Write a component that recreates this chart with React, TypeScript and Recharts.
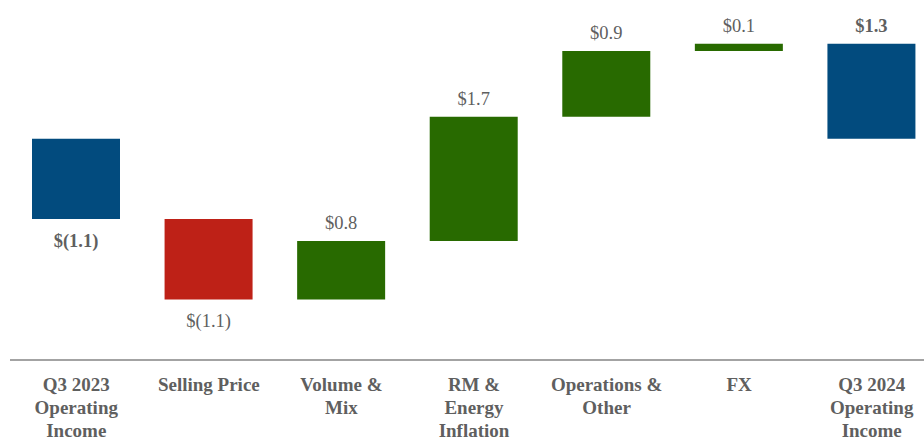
import { BarChart, Bar, XAxis, YAxis, Cell, LabelList } from 'recharts'

// bridge categories (\n = line break in the axis label)
const categories = [
  'Q3 2023\nOperating\nIncome',
  'Selling Price',
  'Volume &\nMix',
  'RM &\nEnergy\nInflation',
  'Operations &\nOther',
  'FX',
  'Q3 2024\nOperating\nIncome',
]
// change per step ($M); totals are the start / end levels
const deltas = [-1.1, -1.1, 0.8, 1.7, 0.9, 0.1, 1.3]
const isTotal = [true, false, false, false, false, false, true]

const BLUE = '#024b7e'
const RED = '#be2117'
const GREEN = '#286a00'
const TEXT = '#5f5f5f'
const FONT = 'Liberation Serif, Times New Roman, DejaVu Serif, serif'

let running = 0
const data = categories.map((name, i) => {
  let low: number, high: number
  if (isTotal[i]) {
    low = Math.min(0, deltas[i])
    high = Math.max(0, deltas[i])
    running = deltas[i]
  } else {
    const next = running + deltas[i]
    low = Math.min(running, next)
    high = Math.max(running, next)
    running = next
  }
  return { name, value: deltas[i], total: isTotal[i], range: [low, high] }
})

const fmt = (v: number) => (v < 0 ? `$(${Math.abs(v).toFixed(1)})` : `$${v.toFixed(1)}`)

function colorFor(i: number) {
  if (data[i].total) return BLUE
  return data[i].value < 0 ? RED : GREEN
}

// eslint-disable-next-line @typescript-eslint/no-explicit-any
function CategoryTick(props: any) {
  const { x, y, payload } = props
  const lines = String(payload.value).split('\n')
  return (
    <text
      x={x}
      y={y}
      textAnchor="middle"
      fill={TEXT}
      style={{ fontFamily: FONT, fontWeight: 'bold', fontSize: 19 }}
    >
      {lines.map((l, k) => (
        <tspan key={k} x={x} dy={23}>
          {l}
        </tspan>
      ))}
    </text>
  )
}

// eslint-disable-next-line @typescript-eslint/no-explicit-any
function ValueLabel(props: any) {
  const { x, y, width, height, index } = props
  const row = data[index]
  const top = Math.min(y, y + height)
  const bottom = Math.max(y, y + height)
  const cx = x + width / 2
  const ty = row.value < 0 ? bottom + 28 : top - 12
  return (
    <text
      x={cx}
      y={ty}
      textAnchor="middle"
      fill={TEXT}
      style={{ fontFamily: FONT, fontSize: 18.5, fontWeight: row.total ? 'bold' : 'normal' }}
    >
      {fmt(row.value)}
    </text>
  )
}

export default function App() {
  return (
    <div style={{ position: 'absolute', left: 0, top: 0, width: 924, height: 440, overflow: 'hidden', background: '#fff', fontFamily: FONT }}>
      <BarChart width={940} height={440} data={data} margin={{ top: 0, right: 2, left: 10, bottom: 0 }}>
        <XAxis
          dataKey="name"
          interval={0}
          height={80}
          tickLine={false}
          axisLine={{ stroke: '#a3a3a3', strokeWidth: 2 }}
          tick={<CategoryTick />}
        />
        <YAxis hide domain={[-3.03, 1.9]} />
        <Bar dataKey="range" barSize={88} isAnimationActive={false}>
          {data.map((_, i) => (
            <Cell key={i} fill={colorFor(i)} />
          ))}
          <LabelList dataKey="value" content={<ValueLabel />} />
        </Bar>
      </BarChart>
    </div>
  )
}
